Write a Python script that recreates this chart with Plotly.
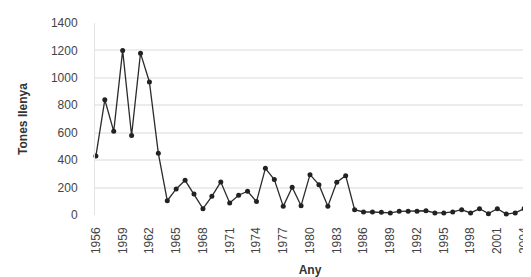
import plotly.graph_objects as go

years = list(range(1956, 2005))
tones = [430, 840, 610, 1200, 580, 1180, 970, 450, 104, 190,
         253, 153, 46, 136, 241, 88, 144, 173, 98, 340,
         258, 63, 202, 68, 294, 221, 63, 239, 287, 39,
         22, 22, 20, 15, 27, 27, 27, 31, 15, 15,
         22, 39, 15, 46, 10, 46, 7, 15, 46]
x_ticks = list(range(1956, 2005, 3))
y_ticks = list(range(0, 1401, 200))

fig = go.Figure()
fig.add_trace(go.Scatter(
    x=years, y=tones, mode="lines+markers",
    line=dict(color="#2b2b2b", width=1.3),
    marker=dict(color="#222222", size=5, symbol="circle"),
    cliponaxis=False, showlegend=False,
))

font = "Liberation Sans, Arial, sans-serif"
fig.update_layout(
    width=531, height=277,
    margin=dict(l=87, r=8, t=15, b=70),
    paper_bgcolor="white", plot_bgcolor="white",
    font=dict(family=font, size=12, color="#444444"),
    xaxis=dict(
        range=[1955.9, 2004.1],
        tickmode="array", tickvals=x_ticks, ticktext=[str(v) for v in x_ticks],
        tickangle=-90, tickfont=dict(size=12, color="#444444"),
        showgrid=False, zeroline=False, showline=False,
        ticks="", ticklabelstandoff=9,
        title=dict(text="<b>Any</b>", font=dict(size=12, color="#333333"), standoff=12),
    ),
    yaxis=dict(
        range=[0, 1400],
        tickmode="array", tickvals=y_ticks, ticktext=[str(v) for v in y_ticks],
        tickfont=dict(size=12, color="#444444"),
        showgrid=True, gridcolor="#ececec", gridwidth=1.5,
        zeroline=False, showline=True, linecolor="#e4e4e4", linewidth=1,
        ticks="", ticklabelstandoff=14,
        title=dict(text="<b>Tones llenya</b>", font=dict(size=12, color="#333333"), standoff=20),
    ),
)

fig.write_html("out.html")
